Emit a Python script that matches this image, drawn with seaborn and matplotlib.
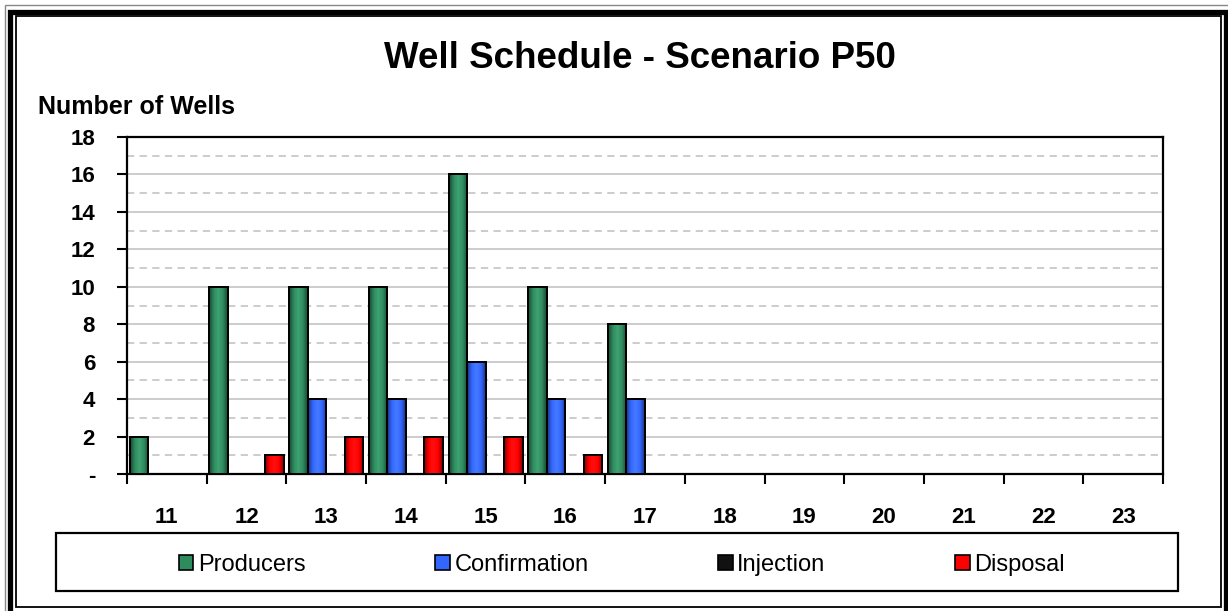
import numpy as np
import pandas as pd
import matplotlib
matplotlib.use("Agg")
import matplotlib.pyplot as plt
import seaborn as sns
from matplotlib.patches import Rectangle, Patch
from matplotlib.colors import to_rgb, LinearSegmentedColormap
from matplotlib.ticker import FixedLocator

# Well counts per year
years = ["11", "12", "13", "14", "15", "16", "17", "18", "19", "20", "21", "22", "23"]
producers = [2, 10, 10, 10, 16, 10, 8, 0, 0, 0, 0, 0, 0]
confirmation = [0, 0, 4, 4, 6, 4, 4, 0, 0, 0, 0, 0, 0]
injection = [0, 0, 0, 0, 0, 0, 0, 0, 0, 0, 0, 0, 0]
disposal = [0, 1, 2, 2, 2, 1, 0, 0, 0, 0, 0, 0, 0]
y_ticks = [0, 2, 4, 6, 8, 10, 12, 14, 16, 18]
y_labels = ["-", "2", "4", "6", "8", "10", "12", "14", "16", "18"]

series_names = ["Producers", "Confirmation", "Injection", "Disposal"]
series_colors = ["#2E8B5E", "#3366FF", "#111111", "#FF0000"]

df = pd.DataFrame({
    "Year": years * 4,
    "Type": sum([[n] * len(years) for n in series_names], []),
    "Wells": producers + confirmation + injection + disposal,
})

plt.rcParams["font.family"] = ["Liberation Sans", "DejaVu Sans"]

W, H = 1228, 611
fig = plt.figure(figsize=(W / 100, H / 100), dpi=100)
fig.patch.set_facecolor("white")

def fx(px):
    return px / W

def fy(py):
    return 1 - py / H

left, right, top, bottom = 127, 1163, 137, 474
ax = fig.add_axes([fx(left), fy(bottom), fx(right - left), (bottom - top) / H])

sns.barplot(data=df, x="Year", y="Wells", hue="Type", hue_order=series_names,
            order=years, palette=series_colors, width=0.93, edgecolor="black",
            linewidth=1.2, saturation=1, ax=ax, legend=False, zorder=3)

# Horizontal shading across each bar, then a crisp outline on top
bars = [p for p in ax.patches if p.get_height() > 0]
grad = np.linspace(0, 1, 64).reshape(1, -1)
for patch in bars:
    x0, y0 = patch.get_x(), patch.get_y()
    w, h = patch.get_width(), patch.get_height()
    base = np.array(to_rgb(patch.get_facecolor()))
    dark = base * 0.5
    light = np.clip(base * 1.05 + 0.06, 0, 1)
    cmap = LinearSegmentedColormap.from_list("shade", [dark, base, light, base, dark])
    ax.imshow(grad, extent=[x0, x0 + w, y0, y0 + h], cmap=cmap,
              aspect="auto", zorder=3.5, interpolation="bilinear")
    ax.add_patch(Rectangle((x0, y0), w, h, fill=False, edgecolor="black",
                           linewidth=1.4, zorder=4))

ax.set_xlim(-0.5, len(years) - 0.5)
ax.set_ylim(0, 18)

# Gridlines: solid on even values, dashed on odd values
for v in range(1, 18):
    if v % 2 == 0:
        ax.axhline(v, color="#C8C8C8", linewidth=1.3, zorder=1)
    else:
        ax.axhline(v, color="#C8C8C8", linewidth=1.3, linestyle=(0, (4, 3)), zorder=1)

ax.set_yticks(y_ticks, labels=y_labels, fontsize=16, fontweight="bold")
ax.set_xticks(range(len(years)), labels=years, fontsize=16, fontweight="bold")
ax.xaxis.set_minor_locator(FixedLocator(np.arange(-0.5, len(years), 1.0)))
ax.tick_params(axis="x", which="major", length=0, pad=24)
ax.tick_params(axis="x", which="minor", length=7, width=1.5, direction="out", color="black")
ax.tick_params(axis="y", which="major", length=7, width=1.5, direction="out", color="black", pad=16)

ax.set_xlabel("")
ax.set_ylabel("")
for s in ax.spines.values():
    s.set_visible(True)
    s.set_color("black")
    s.set_linewidth(1.6)
ax.set_facecolor("white")

# Title and axis caption
fig.text(fx(640), fy(59), "Well Schedule - Scenario P50", ha="center", va="center",
         fontsize=26.5, fontweight="bold")
fig.text(fx(38), fy(107), "Number of Wells", ha="left", va="center",
         fontsize=18, fontweight="bold")

# Legend in a box under the plot
fig.patches.append(Rectangle((fx(56), fy(591)), fx(1178 - 56), (591 - 533) / H,
                             transform=fig.transFigure, fill=False,
                             edgecolor="black", linewidth=1.6))
handles = [Patch(facecolor=c, edgecolor="black", linewidth=1.2) for c in series_colors]
leg = fig.legend(handles, series_names, loc="center",
                 bbox_to_anchor=(fx(622), fy(565)),
                 ncol=4, frameon=False, fontsize=17,
                 handlelength=0.6, handleheight=0.6, handletextpad=0.2,
                 columnspacing=5.5, borderaxespad=0, borderpad=0)

# Double frame around the chart
fig.patches.append(Rectangle((fx(4.5), fy(640)), fx(1260 - 4.5), (640 - 5) / H,
                             transform=fig.transFigure, fill=False,
                             edgecolor="#888888", linewidth=1.0))
fig.patches.append(Rectangle((fx(10), fy(640)), fx(1226 - 10), (640 - 11.5) / H,
                             transform=fig.transFigure, fill=False,
                             edgecolor="black", linewidth=3.8))
fig.patches.append(Rectangle((fx(15.5), fy(607)), fx(1221 - 15.5), (607 - 16) / H,
                             transform=fig.transFigure, fill=False,
                             edgecolor="black", linewidth=1.3))

fig.savefig("out.png", dpi=100)
